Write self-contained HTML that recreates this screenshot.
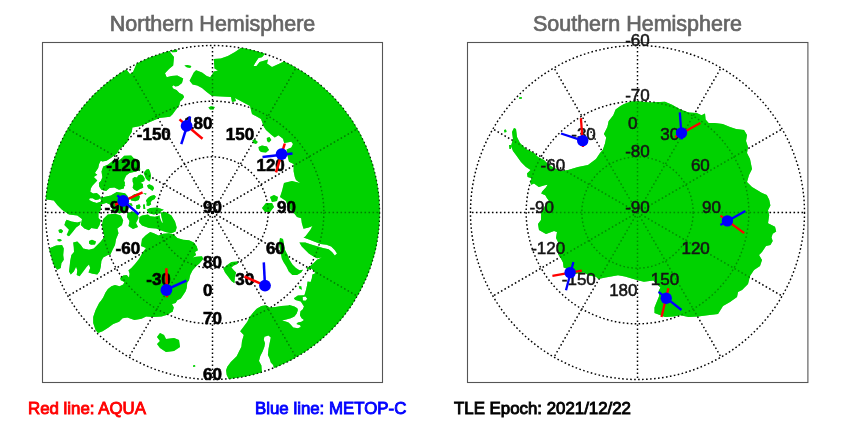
<!DOCTYPE html>
<html><head><meta charset="utf-8"><title>Hemispheres</title>
<style>
html,body{margin:0;padding:0;background:#fff;}
body{width:850px;height:425px;overflow:hidden;font-family:"Liberation Sans",sans-serif;}
svg{display:block;will-change:transform;font-family:"Liberation Sans",sans-serif;}
.g circle,.g line{fill:none;stroke:#000;stroke-width:1.45;stroke-dasharray:1.6 2.4;}
.lab text{font-size:17px;font-weight:bold;fill:#000;stroke:#000;stroke-width:0.6px;}
.labs text{font-size:17px;fill:#151515;stroke:#151515;stroke-width:0.55px;}
.ttl{font-size:21.5px;fill:#666;stroke:#666;stroke-width:0.7px;}
.leg{font-size:16.85px;stroke-width:0.9px;}
</style></head><body>
<svg width="850" height="425" viewBox="0 0 850 425">
<defs>
<clipPath id="cn"><circle cx="212.5" cy="212.5" r="167.3"/></clipPath>
<clipPath id="cs"><circle cx="637.5" cy="212.5" r="167.3"/></clipPath>
</defs>
<rect width="850" height="425" fill="#fff"/>

<text class="ttl" x="212.5" y="30.7" text-anchor="middle">Northern Hemisphere</text>
<text class="ttl" x="637.5" y="30.7" text-anchor="middle">Southern Hemisphere</text>
<defs><mask id="mn" maskUnits="userSpaceOnUse" x="0" y="0" width="850" height="425"><rect width="850" height="425" fill="#000"/><path fill="#fff" d="M136 65 L150 25 L175 30 L170 52 L174 57 L173.2 65.5 L169 69 L165 73.2 L166.7 77.3 L171.4 76.1 L177.3 75.5 L183.2 78.5 L182 82.9 L178.2 85.9 L175.3 86.5 L173.5 85.3 L172 86.8 L173.5 88.8 L176.5 90 L179.4 92.9 L183 94.7 L184.1 97 L182.4 99.4 L180 101.8 L179.4 105 L172.4 114.4 L170 116.8 L159.4 118 L148.8 122.6 L139.4 126.2 L132.4 127.4 L131.8 132 L128.8 136.8 L127.6 141.5 L123 146.2 L118.8 150 L117.2 153.3 L113.9 155.8 L110.6 158.2 L106.5 160.7 L102.4 161.5 L100.7 160.7 L99.1 164 L98.2 168.1 L94.9 173.1 L97.3 174.7 L93.8 177 L97.3 180.6 L92.6 185.4 L90.9 188.3 L90.3 191.8 L93.2 193.6 L96.8 193 L99.7 195.4 L100.9 197.7 L98.5 199.5 L95.6 200 L92.6 198.3 L89.7 198.3 L89.1 200 L92.6 201.8 L96.8 203 L100.3 201.8 L102.6 200 L105.6 200 L108.5 201.2 L106 203 L101 204.5 L100.8 205 L100.8 209.7 L98.5 213.2 L98.5 218 L100.8 220.3 L99.6 225 L97.3 229 L91.4 228 L89 230.3 L84.4 228.5 L80.8 225 L82 219 L77.3 215.6 L69 214.4 L62 209.7 L57.3 205 L53.8 200.6 L46.7 199.4 L30 199 L30 30 L126 69 L130 74 L133 72Z M171.4 50 L177.3 49.6 L177 52 L172 52.3Z M184.4 65.5 L187.3 65 L191.4 66.1 L190.2 67.9 L186.7 67.3Z M124.2 155.8 L131.2 155.4 L133.7 158.2 L139.4 160.7 L140.2 169.8 L136.1 171.4 L129.5 173.1 L126.2 175.5 L124.6 178.8 L123.5 183 L125.3 185.3 L123.5 187 L120 184.7 L114.1 187 L109.4 185.9 L103.5 188.8 L100 187 L98.8 183.5 L100.7 181.3 L102.4 177.2 L101.5 171.4 L103.2 166.5 L107.7 164.8 L110.6 162.4 L114 160 L118 161 L122 158Z M99 182.7 L102.6 179.2 L107.3 178 L122.6 178 L125 182.7 L123.8 188.6 L119 189.8 L114.4 187.4 L109.6 188 L106.1 191 L101.4 189.8 L99 186.2Z M110.8 195.6 L116.7 192.1 L125 193.3 L127.5 196 L128.5 201.5 L128.5 207 L127.3 212.1 L119 213.3 L113.2 211 L110.8 205 L106.1 202.7 L101.4 201.5 L100.2 198 L105 196.8Z M132.6 178.5 L134.7 177 L137 177.6 L138.2 175.6 L140.6 174.4 L142.9 175.6 L144.7 178.5 L144.4 180.9 L142.4 182 L140.5 182.8 L142.9 184 L143.2 187.7 L140 188.9 L137 191 L134.1 189.5 L132.6 187.7 L133.5 184 L132.6 181.5Z M144.7 171.5 L146.5 169.4 L148.8 169.1 L150 171.5 L150.9 175 L150.6 178.5 L149.4 181.5 L147.6 180.3 L145.9 178.5 L144.7 175.6 L143.8 173.2Z M147 185.4 L149.4 184.2 L153 186 L154.1 188.3 L152.4 191 L150.6 189.5 L148.2 188.3Z M130 197.7 L134.1 194.2 L137.6 193.6 L140 196.5 L138.8 200 L135.3 201.2 L131.2 200.6Z M143 193.3 L146.5 193.6 L145.9 194.8Z M145.9 200.6 L148.2 197.7 L150.6 196 L154.1 195 L155.9 196.5 L154.7 198.9 L151.8 200.6 L150.6 202.4 L151.2 204.2 L148.8 206 L146.5 205.4 L146.8 202.4Z M135.9 205.4 L139.4 204.2 L140.6 206.5 L139.4 209 L136.5 209Z M143 204.8 L144.7 204.2 L145.3 209 L143.5 209Z M128.8 203 L131.8 203.6 L132.6 206 L130.6 205.4Z M127.5 213 L132 211.5 L137.5 213 L138.5 218 L136 223 L138 227 L133 229 L128.5 226 L129.5 221 L127 217Z M142 215.6 L147.9 214.4 L150.2 216.2 L155 216.8 L159.6 215.6 L160.8 212.6 L165.5 212 L171.4 215.6 L175 221.5 L176.7 227.4 L175.5 231.5 L171.4 233.2 L165.5 232 L160.8 230.3 L156.1 228.5 L149 228 L142 225.6 L139 222 L139.5 217Z M146.7 209.7 L150.2 208 L157.3 207.4 L163.8 209.7 L160.8 211.5 L159.6 213.2 L153.8 214.4 L149 213.2Z M142 239.1 L145.5 235.6 L150.2 232 L153.8 233.2 L158.5 235.6 L163.2 233.8 L169 233.2 L173.8 234.4 L177.3 238 L183.2 239.7 L189 240.3 L193.8 242.6 L196.7 246.2 L197.9 250.3 L195 252 L196.1 255 L192.6 257.4 L196.1 256.8 L202 256.2 L203.2 259.1 L199.6 263.2 L196.1 266.2 L192.6 270.3 L190.2 275 L189 280.3 L187.3 282.6 L186.7 288 L185.5 291.5 L183.2 295 L180.8 298.5 L177.3 300.3 L175.6 303 L172 304 L173.8 307.6 L172.6 311.8 L170.9 312.4 L167.4 314.7 L161.5 316.5 L153.2 317 L146.2 316.5 L141.5 318.8 L134.4 320 L127.4 317.6 L122.6 318.2 L119.1 321.8 L113.2 324.1 L108.5 327.6 L102.6 331.2 L98 333 L95.6 330 L93.2 323 L93.2 317 L95.6 310 L99.1 303 L100.8 300.9 L103.2 297.4 L105.5 292.6 L107.9 289.1 L111.4 286.2 L115 285 L119.6 286.2 L123.2 284.4 L124.4 282 L120.8 280.3 L120.2 278 L123.2 275.6 L126.7 275 L129 277.4 L129.6 273.8 L128.5 270.3 L131.4 268 L135 264 L139 259 L143 252 L146 248 L141 246Z M107.9 214.4 L115 213.8 L120.8 215.6 L123.2 220.3 L122 225 L117.3 228.5 L118.5 233.2 L116.1 239.1 L115 245 L112.6 249.7 L110.2 255 L107.9 255 L103.2 257.4 L101.4 260.9 L100.8 266.8 L99.6 271.5 L97.3 274.4 L92.6 273.8 L88.5 272.6 L90.2 268 L89 264.4 L86.7 266.8 L83.2 271.5 L79.6 276.2 L76.7 275 L77.3 270.3 L76.1 266.8 L73.8 271.5 L70.8 274.4 L69 271.5 L69.6 266.8 L70.2 260.9 L71.4 255 L74 252 L73.8 247.4 L73.2 242.6 L77.3 241.5 L80.8 245 L83.2 248.5 L89 249.7 L93.8 248.5 L97.3 245 L100.8 241.5 L104.4 236.8 L103.2 232 L102 225 L103.2 219.1Z M89 241 L92 239.8 L96 241.5 L95 244.4 L91 244.8 L89 243.5Z M66.7 219.7 L71.4 221.5 L77.3 222.6 L80.8 221.5 L79.6 225 L76.1 227.4 L72.6 232 L69 236.2 L66.7 235 L69 229.7 L64.4 225 L65.5 221.5Z M58.5 230 L61 229.1 L63.2 231 L61.5 233.2 L59 232.5Z M57.3 239.5 L60 239.1 L62 240.3 L60 241.5 L57.8 241Z M51.4 247.4 L56.1 245.6 L62 245 L63.8 248.5 L63.2 255 L63.8 259.7 L61.4 263.2 L60.8 268 L57.3 269.7 L53.8 265.6 L45 262 L45 250Z M157 337 L160 333 L164 335 L166 339 L174 338 L179 340 L180 347 L174 351 L166 352 L160 348 L157 344 L160 341Z M193 365.5 L195 365 L195.3 366.6 L193.3 367Z M223.2 268.5 L227.9 264.4 L231.4 262 L237.3 261.5 L237.9 263.8 L233.8 265.6 L231.4 267.4 L233.8 270.3 L236.1 272.6 L235 276.2 L234.4 283.2 L231.4 280.9 L227.9 276.2 L225 272.6Z M280 238 L283 239 L285 250 L287.6 255 L289.4 259.7 L292.4 264.4 L295.9 268 L299.4 270.3 L303 269.7 L301.2 272.6 L297 275 L292.4 275 L288.8 271.5 L286.5 266.8 L283.5 262 L281.8 258.5 L281 254 L279 244Z M298.8 286.2 L301.2 286.2 L301.8 289.7 L299.4 288.5Z M208.4 107.5 L211 106.3 L214.8 107 L213.5 109.4 L210 109.6Z M258.5 147 L262 145.5 L267 146.5 L269 150 L266 152.5 L261 152 L259 150Z M266.8 138 L269.5 137 L271.3 140 L269 142.4 L267 141Z M252.5 140 L255 139.4 L257.8 142 L256 144 L253.5 143Z M270 197 L274 195 L278 197 L277 201 L272 202Z M262 208 L266 203 L272 203 L274 207 L270 212 L265 212Z M189.6 80.8 L193.8 72.6 L196.1 70.2 L202 72.6 L206.7 76.1 L210.2 77.3 L212.6 73.8 L214 71.5 L218 70.5 L214.5 68.5 L213.8 59 L220.8 58.5 L227.9 56.1 L235 52 L240.8 47.9 L245 35 L400 35 L400 400 L225 400 L228.5 378.5 L226.7 375 L226.1 370.3 L227.3 366.8 L230.8 362 L234.4 358.5 L236.7 356.2 L239 351.5 L241.4 346.8 L242 340.9 L243.8 335 L240.2 331.2 L243.8 326.5 L247.3 321.8 L249.6 317 L253.2 312.4 L256.7 308.8 L261.4 305.9 L266.1 305.3 L269.6 307.6 L275.5 307 L281.4 305.9 L288.5 305.6 L296.1 301 L293.8 298.2 L297.9 295.6 L304.4 295.3 L305.9 290.3 L307 285.6 L307.6 281.5 L310.6 282 L311.8 278.5 L312.4 274.4 L315.3 273.2 L314 270.9 L311.2 268.5 L307.6 269.7 L306.5 268 L310 266.2 L313.5 263.2 L317 259.7 L321.8 257.4 L317 258.2 L313.5 256.5 L308.8 253.5 L305.3 250 L301.8 246.5 L299.4 242.4 L300.6 242.4 L305.3 242.6 L311.2 244.4 L317 246.2 L323 247.9 L328.6 249.2 L332 252 L334.8 255.5 L337 253.5 L334.7 250 L331.2 246.5 L326.5 244.7 L320.6 244.1 L314.7 241.8 L309 239.4 L303.5 237.6 L305.3 236.5 L307.6 233.5 L310.6 229.4 L312.4 225.9 L308.8 227.6 L303.5 228.8 L301.8 223 L301.2 218.2 L297 217 L293.5 212.4 L288 207 L286 201 L280 197 L282 191 L284 183 L292 181 L300 183 L296 180 L294.8 177 L293.6 171.2 L293.6 164 L289 161.8 L287.8 157 L286.6 149.4 L291.3 147.6 L293 144 L291.3 141.8 L284.2 143 L283 138.8 L278.4 135.3 L274.8 137.6 L271.3 134.7 L266 130 L264 127 L261 119 L252 114 L250 106 L235 98 L236 101 L232 102 L231 97 L212 96 L206.7 92 L202 87.9 L197.3 85.5 L192.6 84.4Z"/><path fill="#000" d="M266.5 52 L262 57.3 L258.5 57.9 L256.1 61.4 L253.5 66 L256.5 66 L259.6 62 L263 61 L268 59.6 L267 63.6 L272 67 L283 62 L283 50 L270 50Z M287.6 304.6 L295.4 300 L300.8 301.4 L304 306.5 L302.6 309.4 L300.5 311.2 L299.9 315.3 L301.6 318.2 L304 320 L301.4 321.8 L297.9 322.4 L296.4 324.1 L300.2 325.3 L300.8 327 L297.9 328.2 L293.2 327.6 L290.8 324.7 L288.5 322.4 L284.9 321.2 L282 320.4 L286.1 319.4 L290.8 318.2 L294.4 316.5 L296.7 313.5 L297.9 310 L297.3 308.2 L294.4 306.5Z M302.6 297 L305.5 296.5 L307.3 298.8 L305.5 300.8 L302.9 300.4Z M159.3 214.5 L160.8 213 L161.6 217.5 L163 222.8 L161.8 222.5 L160 218Z M264.4 336.8 L268.5 335.6 L270.8 337.4 L269.6 343.2 L268.5 349 L267.9 355 L269.6 358.5 L270.8 362.6 L273.2 365 L275 373 L262 375 L261.4 365.6 L259 360.9 L260.2 356.2 L262.6 351.5 L264.4 346.8 L265 343.2 L263.8 339.7Z"/></mask><mask id="ms" maskUnits="userSpaceOnUse" x="0" y="0" width="850" height="425"><rect width="850" height="425" fill="#000"/><path fill="#fff" d="M514 128 L516 129 L517 137 L520 143 L526 149 L534 153 L538 157 L544 160 L548 164 L554 168 L562 171 L568 170 L578 167 L588 165 L596 159 L600 153 L602.7 150 L605 143.5 L606.2 137.6 L603.9 134 L607.4 127 L608.6 121.2 L613.3 115.3 L615.6 109.4 L620.4 105.9 L624 104 L631 101.5 L638 101.2 L649.8 102.4 L665 101.8 L672.1 104.7 L680.4 109.4 L688.6 112.4 L696.8 113 L701.5 115.3 L705 113.5 L705.6 119.4 L708.6 123 L714.5 123 L722.7 124 L730 127 L736 129 L744 130 L747 135 L746 141 L748 147 L747 153 L750 159 L752 169 L749 175 L747 182 L752 187 L762 193 L766.8 195 L769.2 199.7 L770.4 205.6 L768 210.3 L769.2 215 L768 223.2 L775 226.8 L776.2 231.5 L772.7 233.8 L771.5 237.4 L772.7 240.9 L770.4 245 L766 246 L762 252 L759 255 L762 260 L760 266 L754 270 L750 276 L748 284 L742 290 L738 292 L737 297 L730 302 L723 306 L718 314 L707.4 315.3 L698 316.5 L688.6 317 L680.4 315.3 L673.3 316.5 L665 317 L659.2 314.7 L654.5 313 L654.5 307.6 L656.8 301.8 L659.2 295.9 L658.6 291.2 L660.4 287.6 L656.8 284 L653.3 280.6 L643.9 281.8 L636.8 280 L625 276.5 L618 275.3 L612.4 276.2 L605.4 277.4 L598.3 279 L596 276.8 L588.9 275.6 L584.2 272.6 L578.3 273.2 L573.6 274.4 L566.5 268.5 L563.6 267.4 L563 262.6 L560.6 258 L558.3 254.4 L558 242 L556 238 L557 232 L554 231 L546 234 L539 230 L538 224 L541 220 L541.2 212.4 L545 206 L548.8 200.6 L547 198.2 L545.3 195.3 L541.2 193.5 L542.4 191.2 L545.9 187.6 L547.6 184.7 L544.7 185.3 L538.8 187 L534 183.5 L531.2 184.7 L530 181.8 L531.8 178.2 L527.6 177 L527 173.5 L530.6 170 L526 167 L521 162 L516 155 L513 151 L511 146 L513 139 L512 132Z M519 97.5 L521.5 97 L522 98.5 L519.5 99Z M504 130 L506 129.5 L506.5 132 L504.5 132.5Z M509 145 L511 145 L511 149 L509.5 149Z"/></mask></defs>
<g clip-path="url(#cn)"><rect x="40" y="40" width="345" height="345" fill="#00d200" mask="url(#mn)"/></g>
<g clip-path="url(#cs)"><rect x="465" y="40" width="345" height="345" fill="#00d200" mask="url(#ms)"/></g>
<g class="g"><circle cx="212.5" cy="212.5" r="55.67"/><circle cx="212.5" cy="212.5" r="111.33"/><circle cx="212.5" cy="212.5" r="167.00"/><line x1="212.5" y1="212.5" x2="212.50" y2="45.50"/><line x1="212.5" y1="212.5" x2="296.00" y2="67.87"/><line x1="212.5" y1="212.5" x2="357.13" y2="129.00"/><line x1="212.5" y1="212.5" x2="379.50" y2="212.50"/><line x1="212.5" y1="212.5" x2="357.13" y2="296.00"/><line x1="212.5" y1="212.5" x2="296.00" y2="357.13"/><line x1="212.5" y1="212.5" x2="212.50" y2="379.50"/><line x1="212.5" y1="212.5" x2="129.00" y2="357.13"/><line x1="212.5" y1="212.5" x2="67.87" y2="296.00"/><line x1="212.5" y1="212.5" x2="45.50" y2="212.50"/><line x1="212.5" y1="212.5" x2="67.87" y2="129.00"/><line x1="212.5" y1="212.5" x2="129.00" y2="67.87"/><circle cx="637.5" cy="212.5" r="55.67"/><circle cx="637.5" cy="212.5" r="111.33"/><circle cx="637.5" cy="212.5" r="167.00"/><line x1="637.5" y1="212.5" x2="637.50" y2="45.50"/><line x1="637.5" y1="212.5" x2="721.00" y2="67.87"/><line x1="637.5" y1="212.5" x2="782.13" y2="129.00"/><line x1="637.5" y1="212.5" x2="804.50" y2="212.50"/><line x1="637.5" y1="212.5" x2="782.13" y2="296.00"/><line x1="637.5" y1="212.5" x2="721.00" y2="357.13"/><line x1="637.5" y1="212.5" x2="637.50" y2="379.50"/><line x1="637.5" y1="212.5" x2="554.00" y2="357.13"/><line x1="637.5" y1="212.5" x2="492.87" y2="296.00"/><line x1="637.5" y1="212.5" x2="470.50" y2="212.50"/><line x1="637.5" y1="212.5" x2="492.87" y2="129.00"/><line x1="637.5" y1="212.5" x2="554.00" y2="67.87"/></g>
<g clip-path="url(#cn)" opacity="0.6"><rect x="40" y="40" width="345" height="345" fill="#00d200" mask="url(#mn)"/></g>
<g clip-path="url(#cs)" opacity="0.68"><rect x="465" y="40" width="345" height="345" fill="#00d200" mask="url(#ms)"/></g>
<rect x="42.5" y="42.5" width="340" height="340" fill="none" stroke="#555" stroke-width="1.1"/>
<rect x="467.5" y="42.5" width="340.4" height="340" fill="none" stroke="#555" stroke-width="1.1"/>
<g class="lab">
<text x="170.8" y="140.2" text-anchor="end">-150</text>
<text x="140.2" y="170.8" text-anchor="end">-120</text>
<text x="129.0" y="212.5" text-anchor="end">-90</text>
<text x="140.2" y="254.2" text-anchor="end">-60</text>
<text x="170.8" y="284.8" text-anchor="end">-30</text>
<text x="212.5" y="296.0" text-anchor="end">0</text>
<text x="254.2" y="284.8" text-anchor="end">30</text>
<text x="284.8" y="254.2" text-anchor="end">60</text>
<text x="296.0" y="212.5" text-anchor="end">90</text>
<text x="284.8" y="170.8" text-anchor="end">120</text>
<text x="254.2" y="140.2" text-anchor="end">150</text>
<text x="212.5" y="129.0" text-anchor="end">180</text>
<text x="212.5" y="212.5" text-anchor="middle">90</text>
<text x="212.5" y="268.2" text-anchor="middle">80</text>
<text x="212.5" y="323.8" text-anchor="middle">70</text>
<text x="212.5" y="379.5" text-anchor="middle">60</text>
</g><g class="labs">
<text x="595.8" y="284.8" text-anchor="end">-150</text>
<text x="565.2" y="254.2" text-anchor="end">-120</text>
<text x="554.0" y="212.5" text-anchor="end">-90</text>
<text x="565.2" y="170.8" text-anchor="end">-60</text>
<text x="595.8" y="140.2" text-anchor="end">-30</text>
<text x="637.5" y="129.0" text-anchor="end">0</text>
<text x="679.2" y="140.2" text-anchor="end">30</text>
<text x="709.8" y="170.8" text-anchor="end">60</text>
<text x="721.0" y="212.5" text-anchor="end">90</text>
<text x="709.8" y="254.2" text-anchor="end">120</text>
<text x="679.2" y="284.8" text-anchor="end">150</text>
<text x="637.5" y="296.0" text-anchor="end">180</text>
<text x="637.5" y="212.5" text-anchor="middle">-90</text>
<text x="637.5" y="156.8" text-anchor="middle">-80</text>
<text x="637.5" y="101.2" text-anchor="middle">-70</text>
<text x="637.5" y="45.5" text-anchor="middle">-60</text>
</g>
<line x1="179.5" y1="119.4" x2="202.5" y2="138.8" stroke="#f00" stroke-width="2.5"/><line x1="190.1" y1="116.5" x2="181.3" y2="144.1" stroke="#00f" stroke-width="2.5"/><circle cx="186.6" cy="125.9" r="5.9" fill="#00f"/><line x1="284.8" y1="143.5" x2="276" y2="172.4" stroke="#f00" stroke-width="2.5"/><line x1="262.5" y1="157" x2="292.5" y2="153.5" stroke="#00f" stroke-width="2.5"/><circle cx="281.6" cy="154.1" r="5.9" fill="#00f"/><line x1="142.6" y1="192.4" x2="114.9" y2="204.8" stroke="#f00" stroke-width="2.5"/><line x1="117.3" y1="195.4" x2="138.8" y2="214.5" stroke="#00f" stroke-width="2.5"/><circle cx="123.2" cy="200.9" r="5.9" fill="#00f"/><line x1="166.4" y1="268.2" x2="167" y2="297.4" stroke="#f00" stroke-width="2.5"/><line x1="186.4" y1="280.6" x2="161.1" y2="292" stroke="#00f" stroke-width="2.5"/><circle cx="166.4" cy="290" r="5.9" fill="#00f"/><line x1="244.4" y1="276.5" x2="265" y2="285.6" stroke="#f00" stroke-width="2.5"/><line x1="263.8" y1="262.4" x2="265" y2="285.6" stroke="#00f" stroke-width="2.5"/><circle cx="265" cy="285.6" r="5.9" fill="#00f"/><line x1="580.9" y1="118.2" x2="583" y2="147" stroke="#f00" stroke-width="2.3"/><line x1="561" y1="133.5" x2="582.7" y2="140.6" stroke="#00f" stroke-width="2.3"/><circle cx="582.7" cy="140.6" r="5.7" fill="#00f"/><line x1="700.4" y1="122.9" x2="675" y2="137" stroke="#f00" stroke-width="2.3"/><line x1="679.8" y1="112.4" x2="681.8" y2="139.4" stroke="#00f" stroke-width="2.3"/><circle cx="681.5" cy="132.9" r="5.7" fill="#00f"/><line x1="720.4" y1="215.6" x2="744.2" y2="233.2" stroke="#f00" stroke-width="2.3"/><line x1="745.4" y1="210.9" x2="720.4" y2="225" stroke="#00f" stroke-width="2.3"/><circle cx="727.4" cy="220.9" r="5.7" fill="#00f"/><line x1="552.4" y1="275.8" x2="581.8" y2="270.6" stroke="#f00" stroke-width="2.3"/><line x1="573.4" y1="262" x2="566" y2="290.3" stroke="#00f" stroke-width="2.3"/><circle cx="570.1" cy="272.6" r="5.7" fill="#00f"/><line x1="668.4" y1="288.2" x2="661.5" y2="317" stroke="#f00" stroke-width="2.3"/><line x1="658.6" y1="291.8" x2="681.5" y2="310" stroke="#00f" stroke-width="2.3"/><circle cx="666.2" cy="298.2" r="5.7" fill="#00f"/>
<text class="leg" x="28" y="413.6" fill="#f00" stroke="#f00">Red line: AQUA</text>
<text class="leg" x="255" y="413.6" fill="#00f" stroke="#00f">Blue line: METOP-C</text>
<text class="leg" x="454" y="413.6" fill="#000" stroke="#000">TLE Epoch: 2021/12/22</text>
</svg></body></html>
